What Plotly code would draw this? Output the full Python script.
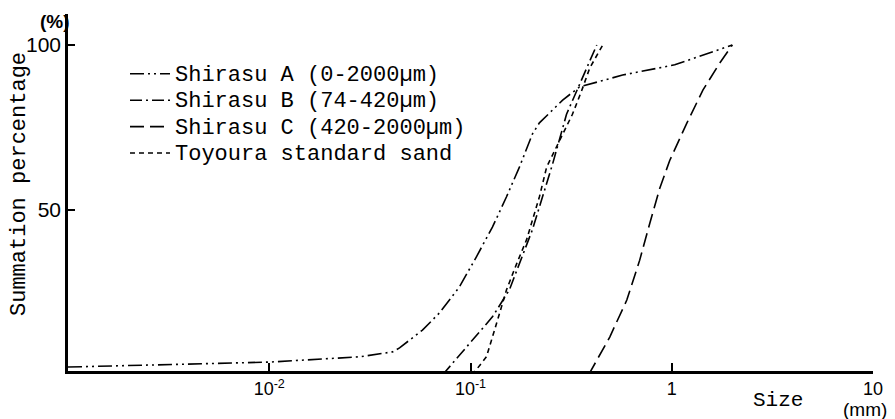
import plotly.graph_objects as go

# Shirasu A (0-2000um)
a_size = [0.001, 0.01, 0.0281, 0.0315, 0.041, 0.0444, 0.0577, 0.0701, 0.0881, 0.107,
          0.1285, 0.151, 0.175, 0.203, 0.220, 0.287, 0.348, 0.570, 1.035, 2.0]
a_pct = [2.4, 3.9, 5.5, 6.0, 7.0, 8.2, 13.6, 18.8, 26.7, 35.8,
         44.8, 54, 63, 73, 76.4, 83.3, 87.3, 90.9, 94, 100]

# Shirasu B (74-420um)
b_size = [0.0726, 0.0989, 0.1285, 0.156, 0.175, 0.203, 0.228, 0.256, 0.30, 0.337, 0.378, 0.424]
b_pct = [0, 9.7, 17.6, 25.8, 33.9, 44, 54, 64, 79, 86, 93, 100]

# Shirasu C (420-2000um)
c_size = [0.386, 0.492, 0.598, 0.693, 0.778, 0.871, 0.977, 1.19, 1.43, 1.73, 2.0]
c_pct = [0, 11.5, 22.7, 34.8, 46, 56.5, 65, 76.4, 86.4, 94.5, 100]

# Toyoura standard sand
t_size = [0.102, 0.120, 0.135, 0.151, 0.170, 0.190, 0.220, 0.239, 0.262, 0.321, 0.356, 0.391, 0.454]
t_pct = [0, 5.5, 15.8, 25.8, 33.9, 41, 54, 63, 68, 79, 86, 93, 100]

x_ticks = [0.01, 0.1, 1, 10]
x_ticktext = ["10<sup>-2</sup>", "10<sup>-1</sup>", "1", "10"]
y_ticks = [50, 100]

series = [
    ("Shirasu A (0-2000µm)", a_size, a_pct, "14px,4px,2px,4px,2px,4px"),
    ("Shirasu B (74-420µm)", b_size, b_pct, "12px,4px,2px,4px"),
    ("Shirasu C (420-2000µm)", c_size, c_pct, "14px,6px"),
    ("Toyoura standard sand", t_size, t_pct, "5px,4px"),
]

mono = "Liberation Mono, Courier New, monospace"
sans = "Liberation Sans Narrow, Liberation Sans, Arial, sans-serif"

fig = go.Figure()
for name, xs, ys, dash in series:
    fig.add_trace(go.Scatter(x=xs, y=ys, mode="lines",
                             name='<span style="font-size:22px">' + name + "</span>",
                             line=dict(color="black", width=1.6, dash=dash)))

# page has an 8px body margin; figure is sized so the plot area lands where the reference's is
fig.update_layout(
    width=887, height=411,
    margin=dict(l=60, r=22, t=6, b=48, autoexpand=False),
    paper_bgcolor="white", plot_bgcolor="white",
    showlegend=True,
    legend=dict(x=0.0708, y=0.8835, xanchor="left", yanchor="top",
                font=dict(family=mono, size=18, color="black"),
                bgcolor="rgba(0,0,0,0)", traceorder="normal", itemwidth=40),
    font=dict(family=sans, color="black"),
)
fig.update_xaxes(type="log", range=[-3, 1], tickvals=x_ticks, ticktext=x_ticktext,
                 ticks="inside", ticklen=8, tickwidth=2, tickcolor="black",
                 showline=True, linecolor="black", linewidth=2.5,
                 showgrid=False, zeroline=False, automargin=False,
                 tickfont=dict(family=sans, size=18, color="black"))
fig.update_yaxes(range=[1.2, 109.4], tickvals=y_ticks,
                 ticks="inside", ticklen=7, tickwidth=2, tickcolor="black",
                 showline=True, linecolor="black", linewidth=2.5,
                 showgrid=False, zeroline=False, automargin=False,
                 tickfont=dict(family=sans, size=21, color="black"))

fig.add_annotation(text="Summation percentage", xref="paper", yref="paper",
                   x=(19 - 68) / 805, y=(371 - 184) / 357, xanchor="center", yanchor="middle",
                   textangle=-90, showarrow=False,
                   font=dict(family=mono, size=22, color="black"))
fig.add_annotation(text="<b>(%)</b>", xref="paper", yref="paper",
                   x=(55 - 68) / 805, y=1 + (14 - 21) / 357, xanchor="center", yanchor="middle",
                   showarrow=False, font=dict(family=sans, size=19, color="black"))
fig.add_annotation(text="Size", xref="paper", yref="paper",
                   x=(778 - 68) / 805, y=-(400 - 371) / 357, xanchor="center", yanchor="middle",
                   showarrow=False, font=dict(family=mono, size=21, color="black"))
fig.add_annotation(text="(mm)", xref="paper", yref="paper",
                   x=(865 - 68) / 805, y=-(409 - 371) / 357, xanchor="center", yanchor="middle",
                   showarrow=False, font=dict(family=sans, size=19, color="black"))

fig.write_html("out.html")
